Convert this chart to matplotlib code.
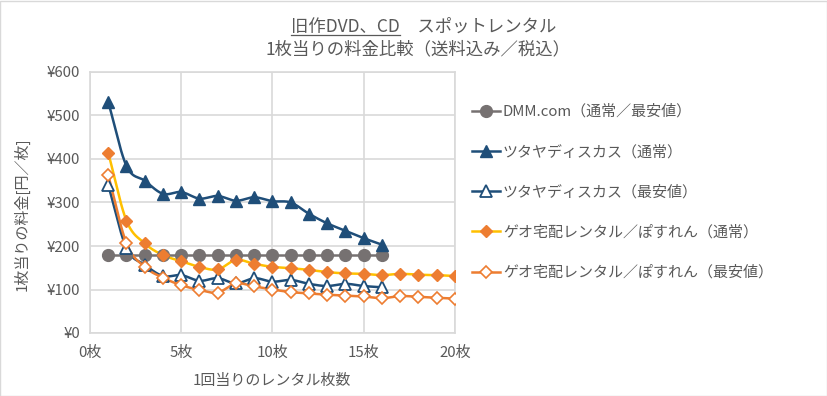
import numpy as np
import matplotlib
matplotlib.use("Agg")
import matplotlib.pyplot as plt
from matplotlib.lines import Line2D
from matplotlib.patches import Rectangle

plt.rcParams['font.family'] = ['Noto Sans CJK JP', 'DejaVu Sans']

# ---- data ----
title_line1a = "旧作DVD、CD"
title_line1b = "　スポットレンタル"
title_line2 = "1枚当りの料金比較（送料込み／税込）"
x_label = "1回当りのレンタル枚数"
y_label = "1枚当りの料金[円／枚]"

x_dmm = list(range(1, 17))
dmm = [180] * 16

x_tsutaya = list(range(1, 17))
tsutaya_normal = [531, 384, 350, 320, 324, 309, 315, 304, 312, 303, 300, 274, 252, 235, 218, 203]
tsutaya_min = [340, 195, 157, 131, 133, 120, 126, 114, 126, 118, 122, 113, 108, 113, 108, 105]

x_geo = list(range(1, 21))
geo_normal = [414, 258, 206, 179, 165, 152, 146, 168, 159, 152, 149, 145, 140, 137, 136, 133, 136, 134, 133, 131]
geo_min = [363, 206, 152, 127, 110, 99, 93, 114, 107, 100, 94, 91, 88, 86, 84, 80, 85, 83, 81, 79]

series_labels = [
    "DMM.com（通常／最安値）",
    "ツタヤディスカス（通常）",
    "ツタヤディスカス（最安値）",
    "ゲオ宅配レンタル／ぽすれん（通常）",
    "ゲオ宅配レンタル／ぽすれん（最安値）",
]

x_ticks = [0, 5, 10, 15, 20]
x_tick_labels = ["0枚", "5枚", "10枚", "15枚", "20枚"]
y_ticks = [0, 100, 200, 300, 400, 500, 600]
y_tick_labels = ["¥0", "¥100", "¥200", "¥300", "¥400", "¥500", "¥600"]


def smooth(xs, ys, n=20):
    """Catmull-Rom curve through the points (Excel-like smoothed line)."""
    xs = np.asarray(xs, float)
    ys = np.asarray(ys, float)
    P = np.column_stack([xs, ys])
    P = np.vstack([2 * P[0] - P[1], P, 2 * P[-1] - P[-2]])
    out = []
    t = np.linspace(0, 1, n, endpoint=False)
    for i in range(1, len(P) - 2):
        p0, p1, p2, p3 = P[i - 1], P[i], P[i + 1], P[i + 2]
        tt = t[:, None]
        pts = 0.5 * ((2 * p1) + (-p0 + p2) * tt + (2 * p0 - 5 * p1 + 4 * p2 - p3) * tt ** 2
                     + (-p0 + 3 * p1 - 3 * p2 + p3) * tt ** 3)
        out.append(pts)
    out.append(P[-2][None, :])
    out = np.vstack(out)
    return out[:, 0], out[:, 1]


W, H = 828, 396
fig = plt.figure(figsize=(W / 100, H / 100), dpi=100)
fig.patch.set_facecolor("white")
fig.add_artist(Rectangle((0.5 / W, 0.5 / H), 1 - 1.5 / W, 1 - 1.5 / H, transform=fig.transFigure,
                         fill=False, edgecolor="#d9d9d9", linewidth=1))

ax = fig.add_axes([90 / W, 1 - 333 / H, 365 / W, 261 / H])
ax.set_xlim(0, 20)
ax.set_ylim(0, 600)

tick_color = "#595959"
grid_color = "#d9d9d9"
fs = 10.8

ax.set_xticks(x_ticks)
ax.set_xticklabels(x_tick_labels)
ax.set_yticks(y_ticks)
ax.set_yticklabels(y_tick_labels)
ax.tick_params(length=0, colors=tick_color, labelsize=fs)
ax.tick_params(axis="x", pad=9)
ax.tick_params(axis="y", pad=7)
ax.grid(True, color=grid_color, linewidth=1.2)
ax.set_axisbelow(True)
for s in ax.spines.values():
    s.set_color(grid_color)
    s.set_linewidth(1.2)

gray = "#767171"
navy = "#1f4e79"
yellow = "#ffc000"
orange = "#ed7d31"
lw = 1.8

# DMM
sx, sy = smooth(x_dmm, dmm)
ax.plot(sx, sy, color=gray, lw=lw, zorder=3)
ax.plot(x_dmm, dmm, ls="none", marker="o", ms=8.5, color=gray, zorder=4)

# Tsutaya normal
sx, sy = smooth(x_tsutaya, tsutaya_normal)
ax.plot(sx, sy, color=navy, lw=lw, zorder=3)
ax.plot(x_tsutaya, tsutaya_normal, ls="none", marker="^", ms=8.5, color=navy, zorder=4)

# Tsutaya min
sx, sy = smooth(x_tsutaya, tsutaya_min)
ax.plot(sx, sy, color=navy, lw=lw, zorder=3)
ax.plot(x_tsutaya, tsutaya_min, ls="none", marker="^", ms=8.5, mfc="white", mec=navy, mew=1.3, zorder=4)

# Geo normal
sx, sy = smooth(x_geo, geo_normal)
ax.plot(sx, sy, color=yellow, lw=lw, zorder=3)
ax.plot(x_geo, geo_normal, ls="none", marker="D", ms=6.5, color=orange, zorder=4)

# Geo min
sx, sy = smooth(x_geo, geo_min)
ax.plot(sx, sy, color=orange, lw=lw, zorder=3)
ax.plot(x_geo, geo_min, ls="none", marker="D", ms=6.5, mfc="white", mec=orange, mew=1.2, zorder=4)

# Legend
handles = [
    Line2D([], [], color=gray, lw=lw, marker="o", ms=8.5),
    Line2D([], [], color=navy, lw=lw, marker="^", ms=8.5),
    Line2D([], [], color=navy, lw=lw, marker="^", ms=8.5, mfc="white", mec=navy, mew=1.3),
    Line2D([], [], color=yellow, lw=lw, marker="D", ms=6.5, mfc=orange, mec=orange),
    Line2D([], [], color=orange, lw=lw, marker="D", ms=6.5, mfc="white", mec=orange, mew=1.2),
]
leg = fig.legend(handles, series_labels, loc="upper left", bbox_to_anchor=(464 / W, 1 - 97 / H),
                 frameon=False, fontsize=fs, labelcolor=tick_color, handlelength=1.9,
                 handletextpad=0.2, labelspacing=1.72, borderpad=0)

# Axis labels
fig.text(22 / W, 1 - 214 / H, y_label, rotation=90, ha="center", va="center",
         fontsize=fs, color=tick_color)
fig.text(272 / W, 1 - 381 / H, x_label, ha="center", va="center", fontsize=fs, color=tick_color)

# Title
tcolor = "#595959"
tfs = 12.5
t1a = fig.text(0.5, 1 - 27 / H, title_line1a, ha="right", va="center", fontsize=tfs, color=tcolor)
t1b = fig.text(0.5, 1 - 27 / H, title_line1b, ha="left", va="center", fontsize=tfs, color=tcolor)
fig.text(0.505, 1 - 49 / H, title_line2, ha="center", va="center", fontsize=tfs, color=tcolor)

fig.canvas.draw()
r = fig.canvas.get_renderer()
ba = t1a.get_window_extent(r)
bb = t1b.get_window_extent(r)
total = ba.width + bb.width
shift = (W / 2 + 10 - total / 2 + ba.width) / W
t1a.set_x(shift)
t1b.set_x(shift)
fig.canvas.draw()
ba = t1a.get_window_extent(r)
uy = ba.y0 + 1.5
fig.add_artist(Line2D([ba.x0 / W, ba.x1 / W], [uy / H, uy / H], transform=fig.transFigure,
                      color=tcolor, lw=0.9))

fig.savefig("out.png", dpi=100, facecolor="white")
